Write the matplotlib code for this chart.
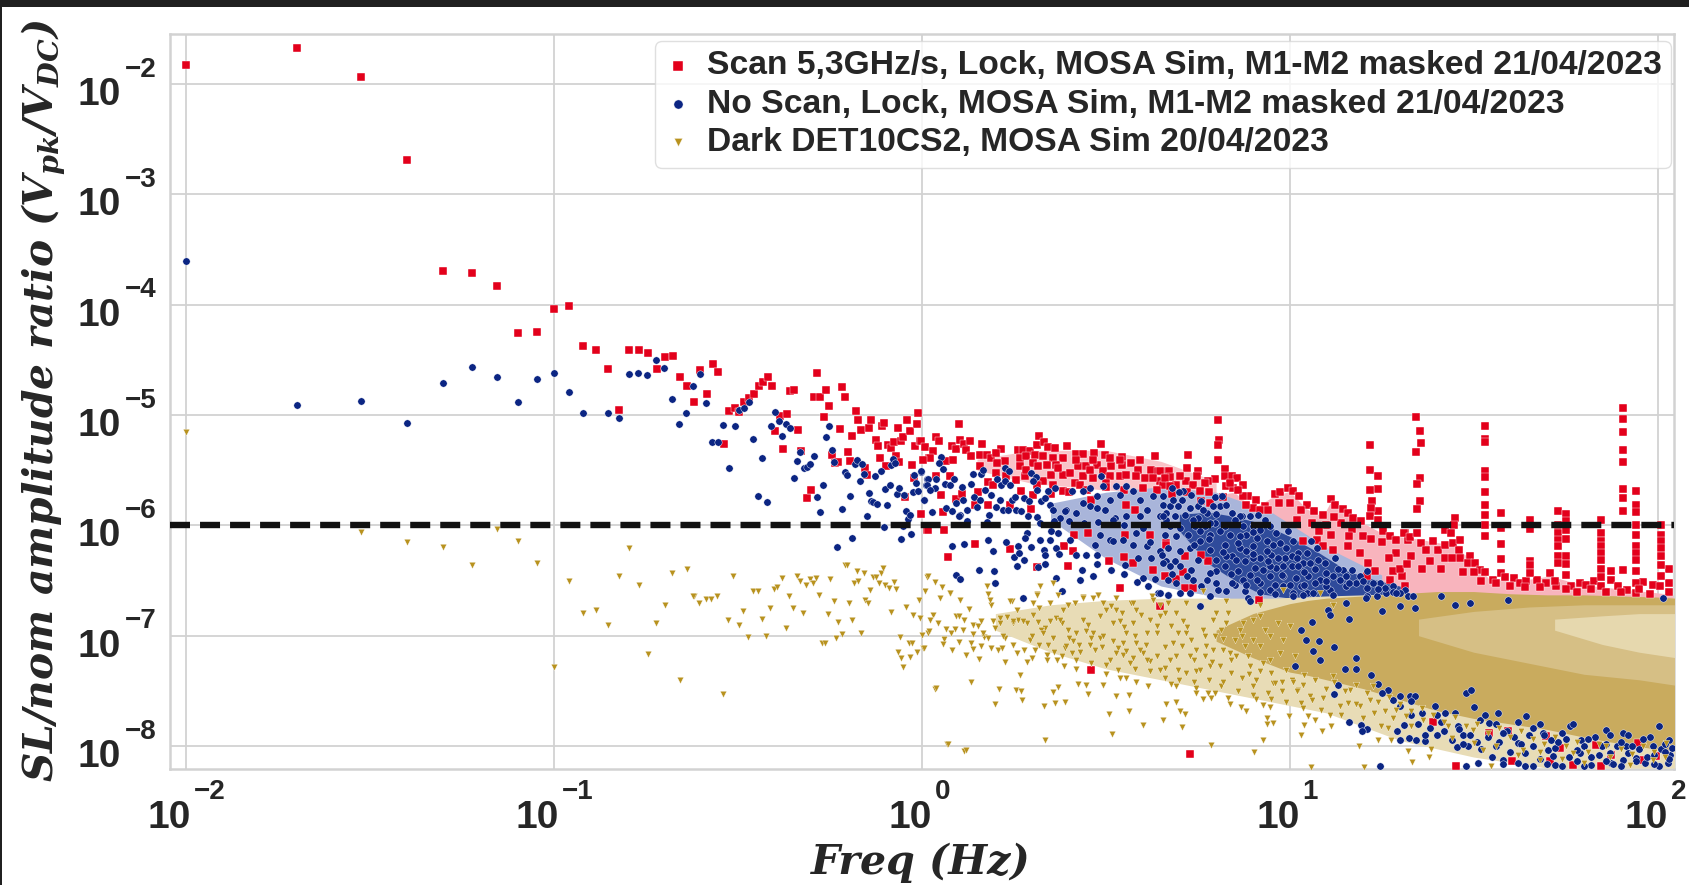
from matplotlib import pyplot as plt
from matplotlib.patches import Rectangle
from matplotlib.transforms import blended_transform_factory
import numpy as np

plt.rcParams['mathtext.fontset'] = 'custom'
plt.rcParams['mathtext.bfit'] = 'DejaVu Serif:italic:bold'

# first bins, one every 0.01 Hz
scan_low_f = [0.01, 0.02, 0.03, 0.04, 0.05, 0.06, 0.07, 0.08, 0.09, 0.10, 0.11, 0.12, 0.13,
              0.14, 0.15]
scan_low_v = [1.48e-2, 2.1e-2, 1.16e-2, 2.04e-3, 2.0e-4, 1.93e-4, 1.48e-4, 5.5e-5, 5.7e-5,
              9.1e-5, 9.8e-5, 4.2e-5, 3.9e-5, 2.6e-5, 1.1e-5]
nolock_low_f = [0.01, 0.02, 0.03, 0.04, 0.05, 0.06, 0.07, 0.08, 0.09, 0.10, 0.11, 0.12, 0.14,
                0.15]
nolock_low_v = [2.5e-4, 1.22e-5, 1.33e-5, 8.5e-6, 1.97e-5, 2.7e-5, 2.2e-5, 1.3e-5, 2.1e-5,
                2.4e-5, 1.6e-5, 1.05e-5, 1.05e-5, 9.4e-6]
dark_low_f = [0.01, 0.03, 0.04, 0.05, 0.06, 0.07, 0.08, 0.09, 0.10, 0.11, 0.12, 0.13, 0.14,
              0.15, 0.16, 0.17, 0.18, 0.19, 0.20, 0.21, 0.22, 0.23, 0.24]
dark_low_v = [7.0e-6, 8.7e-7, 7.1e-7, 6.3e-7, 4.4e-7, 9.3e-7, 7.2e-7, 4.6e-7, 5.2e-8, 3.1e-7,
              1.6e-7, 1.7e-7, 1.26e-7, 3.5e-7, 6.2e-7, 2.9e-7, 6.8e-8, 1.3e-7, 1.9e-7, 3.7e-7,
              4e-8, 4e-7, 2.3e-7]

# the rest as (log10 freq, log10 ratio)
scan_points = [
    (-0.795, -4.415), (-0.768, -4.415), (-0.744, -4.442), (-0.721, -4.587), (-0.699, -4.470),
    (-0.677, -4.461), (-0.658, -4.654), (-0.638, -4.735), (-0.619, -4.883), (-0.603, -4.590),
    (-0.584, -4.808), (-0.568, -4.536), (-0.553, -4.608), (-0.537, -5.264), (-0.524, -4.965),
    (-0.509, -4.938), (-0.496, -4.977), (-0.483, -4.886), (-0.469, -4.847), (-0.456, -4.808),
    (-0.443, -4.735), (-0.432, -4.702), (-0.419, -4.654), (-0.408, -4.741), (-0.398, -5.149),
    (-0.386, -5.013), (-0.378, -5.309), (-0.367, -4.992), (-0.359, -4.778), (-0.347, -4.775),
    (-0.337, -5.140), (-0.329, -5.324), (-0.311, -5.753), (-0.301, -5.681), (-0.292, -4.835),
    (-0.284, -4.615), (-0.276, -4.841), (-0.267, -5.016), (-0.259, -4.772), (-0.252, -4.917),
    (-0.244, -5.361), (-0.236, -5.436), (-0.227, -5.424), (-0.223, -5.128), (-0.216, -4.745),
    (-0.208, -4.841), (-0.201, -5.336), (-0.194, -5.421), (-0.189, -5.191), (-0.180, -4.968),
    (-0.174, -5.043), (-0.165, -5.140), (-0.154, -5.484), (-0.149, -5.541), (-0.143, -5.119),
    (-0.137, -5.049), (-0.125, -5.225), (-0.120, -5.282), (-0.113, -5.391), (-0.108, -5.104),
    (-0.102, -5.068), (-0.097, -5.460), (-0.092, -5.270), (-0.083, -5.300), (-0.075, -5.249),
    (-0.070, -5.369), (-0.065, -5.122), (-0.061, -5.430), (-0.056, -5.240), (-0.050, -5.200),
    (-0.046, -5.747), (-0.039, -5.049), (-0.031, -5.149), (-0.027, -5.451), (-0.022, -5.572),
    (-0.018, -5.285), (-0.013, -5.086), (-0.009, -4.983), (-0.005, -5.240), (-0.001, -5.898),
    (0.003, -5.406), (0.009, -5.291), (0.014, -6.040), (0.020, -5.391),
    (0.100, -5.082), (0.040, -5.200), (0.046, -5.239), (-0.001, -5.239), (0.008, -5.291),
    (0.031, -5.330), (0.022, -5.390), (0.004, -5.406), (0.067, -5.421), (0.085, -5.406),
    (0.081, -5.285), (0.092, -5.309), (0.103, -5.224), (0.114, -5.264), (0.130, -5.239),
    (0.121, -5.321), (0.135, -5.375), (0.164, -5.261), (0.158, -5.360), (0.176, -5.360),
    (0.189, -5.390), (0.214, -5.309), (0.203, -5.345), (0.158, -5.466), (0.226, -5.421),
    (0.205, -5.436), (0.076, -5.551), (0.038, -5.551), (0.053, -5.723), (0.058, -5.880),
    (-0.001, -5.898), (0.016, -6.040), (0.060, -6.040), (0.094, -5.759), (0.108, -5.714),
    (0.144, -5.813), (0.153, -5.699), (0.180, -5.813), (0.180, -5.611), (0.194, -5.632),
    (0.146, -6.170), (0.072, -6.285), (0.241, -6.215), (0.312, -6.381), (0.398, -6.366),
    (0.387, -6.191), (0.411, -6.230), (0.413, -6.091), (0.452, -6.073), (0.509, -6.327),
    (0.550, -6.288), (0.574, -6.342), (0.538, -6.569), (0.660, -6.463), (0.629, -6.403),
    (0.620, -6.085), (0.552, -6.085), (0.665, -6.161),
    (0.262, -5.315), (0.275, -5.315), (0.293, -5.330), (0.318, -5.194), (0.313, -5.269),
    (0.332, -5.248), (0.343, -5.291), (0.361, -5.300), (0.395, -5.285), (0.420, -5.351),
    (0.438, -5.351), (0.467, -5.345), (0.488, -5.264), (0.497, -5.366), (0.543, -5.381),
    (0.592, -5.406), (0.633, -5.375), (0.570, -5.436), (0.266, -5.390), (0.284, -5.375),
    (0.307, -5.360), (0.330, -5.375), (0.357, -5.390), (0.384, -5.390), (0.302, -5.436),
    (0.339, -5.451), (0.366, -5.451), (0.425, -5.466), (0.447, -5.466), (0.475, -5.451),
    (0.515, -5.466), (0.543, -5.451), (0.588, -5.496), (0.624, -5.496), (0.642, -5.511),
    (0.669, -5.511), (0.280, -5.556), (0.257, -5.587), (0.330, -5.602), (0.384, -5.541),
    (0.416, -5.617), (0.466, -5.572), (0.538, -5.556), (0.583, -5.556), (0.647, -5.602),
    (0.271, -5.693), (0.302, -5.723), (0.384, -5.693), (0.239, -5.813), (0.298, -5.853),
    (0.461, -5.768), (0.579, -5.859), (0.556, -5.813),
    (0.806, -5.049), (0.807, -5.224), (0.806, -5.269), (0.806, -5.406), (0.724, -5.366),
    (0.722, -5.481), (0.751, -5.511), (0.672, -5.511), (0.674, -5.563), (0.647, -5.511),
    (0.824, -5.490), (0.825, -5.557), (0.796, -5.581), (0.778, -5.596), (0.842, -5.557),
    (0.857, -5.572), (0.872, -5.638), (0.887, -5.738), (0.908, -5.768), (0.932, -5.823),
    (0.960, -5.714), (0.975, -5.702), (0.996, -5.662), (1.009, -5.693), (1.026, -5.738),
    (1.046, -5.813), (1.065, -5.874), (1.091, -5.904), (1.111, -5.762), (1.123, -5.813),
    (1.145, -5.853), (1.159, -5.889), (1.172, -5.934), (1.195, -5.964), (1.218, -5.269),
    (1.218, -5.496), (1.240, -5.557), (1.240, -5.668), (1.218, -5.680), (1.224, -5.777),
    (1.240, -5.874), (1.222, -5.844), (1.218, -5.919), (1.240, -5.949), (1.254, -6.055),
    (1.272, -6.100), (1.290, -6.131), (1.313, -6.070), (1.322, -6.131), (0.719, -5.602),
    (0.738, -5.632), (0.656, -5.632), (0.692, -5.632), (0.661, -6.463), (0.692, -6.487),
    (0.715, -6.569), (0.738, -6.569), (0.710, -6.427), (0.715, -6.282), (0.778, -6.327),
    (0.760, -6.267), (0.665, -6.176), (0.760, -5.783), (0.783, -5.798), (0.828, -5.647),
    (0.846, -5.662), (1.037, -6.146), (1.073, -6.131), (1.091, -6.191), (1.118, -6.221),
    (1.113, -6.085), (1.159, -6.191), (1.190, -6.252), (1.213, -6.342), (1.231, -6.418),
    (1.209, -6.463), (1.281, -6.418), (1.272, -6.493), (1.313, -6.553), (1.304, -6.463),
    (1.344, -5.022), (1.355, -5.143), (1.356, -5.255), (1.344, -5.336), (1.353, -5.572),
    (1.347, -5.626), (1.355, -5.783), (1.346, -5.850), (1.448, -5.934), (1.447, -5.995),
    (1.421, -6.040), (1.439, -6.070), (1.312, -6.070), (1.326, -6.107), (1.346, -6.070),
    (1.358, -6.161), (1.390, -6.146), (1.403, -6.221), (1.421, -6.176), (1.421, -6.297),
    (1.444, -6.161), (1.462, -6.137), (1.460, -6.221), (1.462, -6.297), (1.489, -6.282),
    (1.485, -6.342), (1.504, -6.342), (1.516, -6.403), (1.532, -6.424), (1.553, -6.493),
    (1.575, -6.433), (1.586, -6.469), (1.611, -6.478), (1.625, -6.523), (1.643, -6.508),
    (1.672, -6.493), (1.707, -6.433), (1.696, -6.523), (1.725, -6.554), (1.765, -6.554),
    (1.788, -6.523), (1.804, -6.539), (1.826, -6.508), (1.874, -6.418), (1.874, -6.493),
    (1.892, -6.554), (1.917, -6.584), (1.960, -6.518), (1.987, -6.539), (2.007, -6.554),
    (2.031, -6.397), (2.031, -6.523), (2.008, -6.463),
    (1.530, -5.104), (1.530, -5.215), (1.530, -5.249), (1.530, -5.511), (1.530, -5.563),
    (1.530, -5.699), (1.530, -5.814), (1.530, -5.904), (1.530, -5.995), (1.530, -6.095),
    (1.573, -5.889), (1.573, -6.025), (1.573, -6.167), (1.573, -6.303),
    (1.652, -5.956), (1.652, -6.034), (1.652, -6.321), (1.652, -6.363), (1.652, -6.433),
    (1.729, -5.868), (1.729, -5.995), (1.729, -6.070), (1.729, -6.131), (1.729, -6.191),
    (1.729, -6.282), (1.729, -6.342),
    (1.752, -5.895), (1.752, -5.965), (1.752, -6.046), (1.752, -6.122), (1.752, -6.282),
    (1.752, -6.348), (1.752, -6.448),
    (1.845, -5.950), (1.845, -6.070), (1.845, -6.146), (1.845, -6.191), (1.845, -6.252),
    (1.845, -6.312), (1.845, -6.397), (1.845, -6.469), (1.845, -6.554),
    (1.906, -4.938), (1.906, -5.037), (1.906, -5.158), (1.906, -5.315), (1.906, -5.427),
    (1.906, -5.672), (1.906, -5.753), (1.906, -5.868), (1.906, -6.403),
    (1.942, -5.693), (1.942, -5.820), (1.942, -5.880), (1.942, -5.995), (1.942, -6.086),
    (1.942, -6.185), (1.942, -6.252), (1.942, -6.318), (1.942, -6.418), (1.942, -6.523),
    (1.942, -6.614),
    (2.010, -5.995), (2.010, -6.086), (2.010, -6.146), (2.010, -6.206), (2.010, -6.282),
    (2.010, -6.357),
    (1.389, -7.782), (1.453, -8.184), (1.605, -8.133), (1.734, -8.018), (1.770, -8.169),
    (1.543, -7.882), (1.593, -7.867), (1.697, -7.912), (1.833, -7.988), (1.874, -8.079),
    (1.951, -8.124), (1.996, -8.094), (1.947, -7.973), (1.847, -8.184), (1.707, -8.139),
    (0.459, -7.308), (0.730, -8.069), (0.917, -6.674), (0.647, -6.734),
    (0.266, -5.466), (0.284, -5.496), (0.316, -5.466), (0.352, -5.541), (0.370, -5.481),
    (0.402, -5.526), (0.438, -5.556), (0.457, -5.496), (0.493, -5.511), (0.511, -5.556),
    (0.556, -5.541), (0.606, -5.572), (0.629, -5.572), (0.660, -5.572), (0.502, -5.617),
    (0.429, -5.632), (0.357, -5.632), (0.313, -5.632), (0.203, -5.526), (0.230, -5.557),
    (0.538, -5.406), (0.511, -5.390), (0.466, -5.406), (0.420, -5.406),
    (0.674, -5.647), (0.701, -5.557), (0.747, -5.557), (0.769, -5.617), (0.756, -5.693),
    (0.873, -5.738), (0.860, -5.677), (0.837, -5.617), (0.901, -5.844), (0.919, -5.859),
    (1.00, -5.80), (0.97, -5.80), (1.03, -5.86), (1.06, -5.98), (1.10, -6.00), (1.14, -5.98),
    (1.17, -6.03), (1.20, -6.10), (1.25, -6.15), (1.29, -6.25), (1.33, -6.28), (1.37, -6.22),
    (1.41, -6.40), (1.47, -6.42), (1.52, -6.50), (1.60, -6.55), (1.68, -6.56), (1.75, -6.58),
    (1.82, -6.58), (1.90, -6.60), (1.98, -6.62), (1.36, -6.40), (1.30, -6.40),
    (0.50, -5.65), (0.45, -5.68), (0.40, -5.70), (0.35, -5.72), (0.55, -5.68), (0.60, -5.66),
    (0.64, -5.68), (0.68, -5.72), (0.72, -5.70), (0.78, -5.70), (0.82, -5.74), (0.88, -5.82),
    (0.94, -5.86), (1.02, -5.95), (1.08, -6.05), (1.12, -5.92), (1.16, -6.10), (1.22, -6.12),
    (1.27, -6.30), (1.32, -6.35), (1.38, -6.32), (1.44, -6.30), (1.50, -6.42), (1.56, -6.52),
    (1.64, -6.56), (1.72, -6.50), (1.78, -6.60), (1.86, -6.60), (1.95, -6.58), (2.03, -6.60),
]

nolock_points = [
    (-0.796, -4.630), (-0.770, -4.618), (-0.746, -4.636), (-0.722, -4.503), (-0.700, -4.575),
    (-0.679, -4.856), (-0.659, -5.086), (-0.640, -4.986), (-0.621, -4.738), (-0.603, -4.627),
    (-0.586, -4.895), (-0.570, -5.246), (-0.553, -5.243), (-0.539, -5.089), (-0.525, -5.478),
    (-0.509, -5.101), (-0.496, -4.956), (-0.483, -4.935), (-0.470, -4.886), (-0.458, -5.213),
    (-0.445, -5.733), (-0.433, -5.388), (-0.421, -5.784), (-0.410, -5.098), (-0.400, -4.971),
    (-0.389, -5.052), (-0.379, -5.194), (-0.368, -5.077), (-0.358, -5.116), (-0.348, -5.572),
    (-0.338, -5.415), (-0.330, -5.336), (-0.321, -5.484), (-0.312, -5.469), (-0.303, -5.448),
    (-0.294, -5.367), (-0.285, -5.741), (-0.277, -5.877), (-0.269, -5.632), (-0.261, -5.203),
    (-0.253, -5.098), (-0.245, -5.318), (-0.238, -5.427), (-0.231, -6.200), (-0.216, -5.849),
    (-0.209, -5.512), (-0.202, -5.548), (-0.196, -5.738), (-0.189, -6.116), (-0.182, -5.445),
    (-0.175, -5.409), (-0.169, -5.602), (-0.162, -5.445), (-0.156, -5.533), (-0.150, -5.919),
    (-0.144, -5.705), (-0.138, -5.777), (-0.132, -5.789), (-0.126, -5.554), (-0.121, -5.807),
    (-0.112, -5.505), (-0.103, -6.016), (-0.099, -5.674), (-0.094, -5.813), (-0.087, -5.632),
    (-0.083, -5.451), (-0.077, -5.400), (-0.072, -5.436), (-0.067, -5.714), (-0.062, -5.666),
    (-0.057, -6.125), (-0.051, -6.004), (-0.048, -5.723), (-0.043, -5.874), (-0.038, -5.943),
    (-0.033, -5.907), (-0.028, -6.076), (-0.024, -5.695), (-0.020, -5.545), (-0.015, -5.617),
    (-0.010, -5.689), (-0.003, -5.512), (0.007, -5.771), (0.012, -5.632), (0.015, -5.584),
    (-0.001, -5.511), (0.052, -5.381), (0.047, -5.436), (0.058, -5.487),
    (0.017, -5.581), (0.040, -5.581), (0.013, -5.632), (0.035, -5.662), (0.022, -5.677),
    (0.062, -5.623), (0.078, -5.638), (0.088, -5.581), (0.006, -5.768), (0.028, -5.877),
    (0.067, -5.844), (0.081, -5.874), (0.092, -5.798), (0.103, -5.910), (0.112, -5.768),
    (0.110, -5.656), (0.124, -5.859), (0.135, -5.623), (0.140, -5.532), (0.141, -5.744),
    (0.162, -5.532), (0.167, -5.496), (0.159, -5.774), (0.171, -5.677), (0.189, -5.723),
    (0.149, -5.835), (0.182, -5.904), (0.176, -5.970), (0.124, -5.964), (0.101, -5.919),
    (0.203, -5.838), (0.212, -5.774), (0.205, -5.581), (0.216, -5.632), (0.226, -5.481),
    (0.237, -5.511), (0.226, -5.602), (0.239, -5.632), (0.221, -5.859), (0.235, -5.859),
    (0.244, -5.768), (0.253, -5.744), (0.257, -5.859), (0.271, -5.874), (0.277, -5.753),
    (0.291, -5.783), (0.289, -5.913), (0.298, -5.526), (0.310, -5.563), (0.302, -5.602),
    (0.313, -5.677), (0.312, -5.925), (0.325, -5.783), (0.334, -5.753), (0.343, -5.693),
    (0.348, -5.813), (0.361, -5.662), (0.357, -5.865), (0.375, -5.934), (0.393, -5.859),
    (0.407, -5.693), (0.420, -5.889), (0.438, -5.693), (0.457, -5.662), (0.438, -5.798),
    (0.457, -5.828), (0.475, -5.738), (0.493, -5.647), (0.488, -5.556), (0.511, -5.768),
    (0.529, -5.647), (0.538, -5.723), (0.556, -5.647), (0.574, -5.693), (0.525, -5.934),
    (0.556, -5.919), (0.592, -5.768), (0.611, -5.859), (0.629, -5.738), (0.656, -5.813),
    (0.592, -5.919), (0.647, -5.919), (0.665, -5.949), (0.475, -5.844), (0.497, -5.859),
    (0.388, -5.874),
    (0.081, -6.191), (0.115, -6.170), (0.180, -6.131), (0.194, -6.230), (0.230, -6.155),
    (0.262, -6.185), (0.250, -6.288), (0.264, -6.252), (0.277, -6.312), (0.258, -6.366),
    (0.156, -6.406), (0.197, -6.415), (0.094, -6.451), (0.105, -6.490), (0.199, -6.520),
    (0.286, -6.070), (0.280, -6.115), (0.296, -6.197), (0.322, -6.131), (0.332, -6.221),
    (0.334, -6.267), (0.334, -6.354), (0.316, -6.378), (0.352, -6.055), (0.370, -6.070),
    (0.348, -6.131), (0.364, -6.206), (0.372, -6.261), (0.366, -6.478), (0.380, -6.599),
    (0.275, -6.656), (0.402, -6.131), (0.420, -6.267), (0.436, -6.409), (0.447, -6.267),
    (0.429, -6.499), (0.475, -6.267), (0.470, -6.176), (0.475, -6.351), (0.466, -6.457),
    (0.484, -6.085), (0.511, -6.131), (0.515, -6.403), (0.520, -6.146), (0.547, -6.131),
    (0.552, -6.363), (0.550, -6.439), (0.583, -6.070), (0.574, -6.176), (0.588, -6.297),
    (0.611, -6.191), (0.624, -6.297), (0.647, -6.236), (0.665, -6.327), (0.601, -6.478),
    (0.585, -6.514), (0.615, -6.553), (0.635, -6.484), (0.643, -6.611), (0.669, -6.629),
    (0.679, -5.662), (0.656, -5.738), (0.710, -5.693), (0.733, -5.723), (0.706, -5.768),
    (0.674, -5.828), (0.751, -5.823), (0.796, -5.744), (0.815, -5.732), (0.774, -5.889),
    (0.810, -5.828), (0.842, -5.889), (0.869, -5.913), (0.892, -5.919), (0.914, -5.904),
    (0.932, -5.949), (0.715, -5.904), (0.688, -5.919), (0.665, -5.889), (0.855, -5.979),
    (0.810, -6.055), (0.783, -6.085), (0.751, -5.934), (0.724, -6.085), (0.692, -6.100),
    (0.661, -6.085), (0.837, -6.085), (0.882, -6.085), (0.919, -6.040), (0.964, -6.070),
    (0.996, -6.055), (1.009, -6.146), (0.973, -6.161), (0.937, -6.146), (0.901, -6.191),
    (0.864, -6.206), (0.824, -6.176), (0.783, -6.221), (0.756, -6.146), (0.728, -6.206),
    (0.701, -6.236), (0.670, -6.206), (0.652, -6.267), (0.688, -6.327), (0.801, -6.312),
    (0.842, -6.282), (0.878, -6.327), (0.919, -6.297), (0.950, -6.267), (0.987, -6.297),
    (1.023, -6.252), (1.046, -6.252), (1.059, -6.146), (1.073, -6.206), (1.077, -6.312),
    (1.037, -6.342), (1.005, -6.372), (0.964, -6.387), (0.928, -6.403), (0.892, -6.448),
    (0.860, -6.418), (0.801, -6.418), (0.774, -6.493), (0.738, -6.493), (0.692, -6.523),
    (0.670, -6.493), (0.670, -6.629), (0.647, -6.614), (0.701, -6.614), (0.728, -6.614),
    (0.783, -6.644), (0.806, -6.584), (0.851, -6.539), (0.878, -6.599), (0.919, -6.523),
    (0.960, -6.539), (0.982, -6.463), (1.018, -6.478), (1.050, -6.463), (1.095, -6.342),
    (1.123, -6.297), (1.145, -6.403), (1.118, -6.463), (1.082, -6.493), (1.168, -6.403),
    (1.209, -6.418), (1.181, -6.523), (1.154, -6.553), (1.109, -6.584), (1.046, -6.614),
    (1.009, -6.614), (1.245, -6.523), (1.209, -6.569), (1.281, -6.553), (1.263, -6.614),
    (1.313, -6.584), (1.322, -6.644), (1.299, -6.614), (1.236, -6.644), (0.887, -6.659),
    (0.892, -6.689), (0.756, -6.735),
    (0.683, -5.768), (0.728, -5.844), (0.697, -5.828), (0.765, -5.859), (0.792, -5.828),
    (0.828, -5.813), (0.864, -5.919), (0.742, -6.010), (0.769, -6.010), (0.796, -5.979),
    (0.824, -6.010), (0.873, -6.010), (0.901, -6.010), (0.946, -6.010), (0.674, -6.010),
    (0.701, -6.025), (0.756, -6.055), (0.864, -6.100), (0.910, -6.115), (0.955, -6.176),
    (0.991, -6.206), (0.882, -6.236), (0.937, -6.236), (0.828, -6.282), (0.855, -6.312),
    (0.901, -6.297), (0.969, -6.297), (1.005, -6.282), (0.905, -6.387), (0.946, -6.372),
    (0.982, -6.372), (1.023, -6.372), (1.055, -6.342), (1.100, -6.433), (0.946, -6.463),
    (0.910, -6.493), (0.873, -6.493), (1.032, -6.553), (1.068, -6.523), (1.136, -6.493),
    (1.190, -6.463), (1.227, -6.523), (1.154, -6.463), (0.946, -6.584), (0.982, -6.553),
    (1.100, -6.553), (1.209, -6.644), (1.258, -6.569), (0.656, -5.919), (0.738, -5.949),
    (0.783, -5.979), (0.751, -6.312), (0.733, -6.403), (0.656, -6.342), (0.783, -6.433),
    (0.824, -6.372), (0.674, -6.372), (0.701, -6.372), (0.842, -6.523), (0.828, -6.599),
    (0.70, -5.70), (0.76, -5.78), (0.80, -5.90), (0.85, -5.95), (0.90, -6.06), (0.74, -6.18),
    (0.78, -6.12), (0.82, -6.24), (0.86, -6.16), (0.90, -6.26), (0.94, -6.32), (0.98, -6.45),
    (1.02, -6.30), (1.04, -6.42), (1.07, -6.40), (1.10, -6.50), (1.13, -6.40), (1.16, -6.52),
    (1.20, -6.50), (1.24, -6.58), (1.28, -6.60), (0.72, -6.46), (0.76, -6.55), (0.80, -6.52),
    (0.84, -6.44), (0.88, -6.54), (0.92, -6.60), (0.96, -6.62), (1.0, -6.54), (1.04, -6.54),
    (0.68, -6.44), (0.62, -6.15), (0.60, -6.02), (0.55, -6.0), (0.52, -5.95), (0.48, -5.97),
    (0.44, -5.98), (0.40, -5.96), (0.36, -5.96), (0.32, -5.98),
    (1.131, -7.450), (1.120, -7.525), (1.161, -7.782), (1.193, -7.813), (1.210, -7.846),
    (1.197, -7.867), (1.181, -7.302), (1.267, -7.489), (1.299, -7.550), (1.326, -7.550),
    (1.340, -7.550), (1.331, -7.589), (1.312, -7.806), (1.292, -7.861), (1.301, -7.943),
    (1.323, -7.927), (1.342, -7.943), (1.369, -7.958), (1.367, -7.897), (1.400, -7.903),
    (1.471, -7.903), (1.455, -8.009), (1.485, -7.997), (1.480, -8.184), (1.512, -8.154),
    (1.245, -8.184), (1.580, -8.124), (1.639, -8.184), (1.562, -8.003), (1.580, -7.882),
    (1.543, -7.791), (1.566, -7.701), (1.457, -7.822), (1.516, -7.761), (1.394, -7.640),
    (1.421, -7.701), (1.480, -7.520), (1.494, -7.489), (1.620, -7.973), (1.661, -8.003),
    (1.643, -7.731), (1.688, -7.882), (1.702, -8.033), (1.716, -8.094), (1.720, -8.169),
    (1.793, -7.943), (1.788, -8.063), (1.820, -8.169), (1.870, -8.063), (1.874, -8.154),
    (1.906, -8.124), (1.915, -8.003), (1.942, -8.109), (1.965, -8.154), (1.987, -8.003),
    (2.033, -8.079), (2.028, -8.154), (2.005, -7.822), (1.906, -7.882), (1.860, -7.852),
    (1.761, -7.822), (2.005, -8.184),
    (1.009, -6.643), (1.036, -6.628), (1.063, -6.613), (1.104, -6.764), (1.109, -6.810),
    (1.045, -7.036), (1.063, -7.142), (1.082, -7.217), (1.014, -7.272), (1.118, -6.628),
    (1.154, -6.704), (1.208, -6.659), (1.299, -6.734), (1.290, -6.613), (1.335, -6.643),
    (1.412, -6.643), (1.489, -6.704), (1.593, -6.674), (2.014, -6.659),
    (1.50, -7.65), (1.53, -7.72), (1.56, -7.80), (1.59, -7.86), (1.62, -7.78), (1.65, -7.90),
    (1.68, -7.80), (1.71, -7.95), (1.74, -7.88), (1.77, -7.80), (1.80, -8.0), (1.83, -7.92),
    (1.86, -7.98), (1.89, -8.0), (1.92, -7.90), (1.95, -8.03), (1.98, -7.92), (2.01, -8.03),
    (2.03, -7.95), (1.47, -7.98), (1.52, -8.03), (1.57, -7.96), (1.60, -8.05), (1.64, -8.06),
    (1.68, -8.12), (1.72, -8.02), (1.76, -8.1), (1.80, -8.18), (1.84, -8.08), (1.88, -8.16),
    (1.92, -8.06), (1.97, -8.1), (2.02, -8.05), (1.42, -7.86), (1.36, -7.70), (1.30, -7.64),
    (1.25, -7.52), (1.22, -7.36), (1.15, -7.30), (1.08, -7.05), (1.03, -6.95),
    (1.35, -7.80), (1.38, -7.84), (1.41, -7.78), (1.44, -7.95), (1.46, -7.85), (1.49, -7.90),
    (1.51, -7.96), (1.54, -7.92), (1.58, -7.88), (1.61, -7.92), (1.63, -7.98), (1.66, -7.84),
    (1.69, -7.90), (1.73, -7.96), (1.75, -7.94), (1.78, -8.04), (1.81, -7.94), (1.85, -8.00),
    (1.87, -7.90), (1.90, -7.96), (1.93, -8.00), (1.96, -7.94), (1.99, -8.08), (2.02, -7.98),
    (2.04, -8.02), (1.55, -8.10), (1.58, -8.16), (1.62, -8.15), (1.66, -8.18), (1.70, -8.16),
    (1.74, -8.18), (1.78, -8.14), (1.82, -8.10), (1.86, -8.14), (1.90, -8.18), (1.94, -8.14),
    (1.99, -8.16), (2.03, -8.12), (1.40, -7.72), (1.45, -7.70), (1.33, -7.72), (1.28, -7.58),
    (1.24, -7.44), (1.18, -7.20), (1.12, -7.10), (1.06, -6.88), (1.16, -6.85), (1.25, -6.78),
    (1.34, -6.75), (1.45, -6.72),
]

dark_points = [
    (-0.623, -6.640), (-0.606, -6.701), (-0.587, -6.668), (-0.572, -6.665), (-0.556, -6.637),
    (-0.541, -7.532), (-0.526, -6.858), (-0.512, -6.462), (-0.498, -6.906), (-0.485, -6.773),
    (-0.472, -7.009), (-0.459, -6.598), (-0.446, -6.598), (-0.434, -6.846), (-0.423, -7.003),
    (-0.413, -6.746), (-0.402, -6.580), (-0.394, -6.562), (-0.380, -6.480), (-0.370, -6.927),
    (-0.360, -6.640), (-0.350, -6.746), (-0.340, -6.456), (-0.331, -6.508), (-0.322, -6.798),
    (-0.314, -6.541), (-0.305, -6.483), (-0.297, -6.526), (-0.287, -6.480), (-0.280, -6.631),
    (-0.270, -7.063), (-0.263, -7.069), (-0.256, -6.804), (-0.249, -6.489), (-0.239, -6.689),
    (-0.233, -7.018), (-0.227, -6.873), (-0.218, -6.985), (-0.210, -6.356), (-0.203, -6.360),
    (-0.197, -6.704), (-0.191, -6.855), (-0.184, -6.520), (-0.177, -6.414), (-0.172, -6.502),
    (-0.165, -6.976), (-0.158, -6.429), (-0.153, -6.677), (-0.147, -6.707), (-0.140, -6.586),
    (-0.132, -6.465), (-0.125, -6.465), (-0.117, -6.526), (-0.110, -6.435), (-0.106, -6.390),
    (-0.099, -6.541), (-0.090, -6.571), (-0.085, -6.789), (-0.075, -6.511), (-0.070, -6.580),
    (-0.059, -7.009), (-0.065, -7.145), (-0.057, -7.205), (-0.050, -7.287), (-0.031, -7.190),
    (-0.034, -7.069), (-0.026, -7.069), (-0.012, -7.145), (0.003, -7.115), (0.001, -6.994),
    (-0.007, -6.677), (0.014, -6.465), (0.018, -6.973), (-0.043, -6.737), (-0.024, -6.813),
    (-0.005, -6.843), (0.037, -7.483), (0.068, -7.985), (0.116, -8.042),
    (0.031, -6.810), (0.022, -6.861), (0.045, -6.885), (0.065, -6.936), (0.060, -7.030),
    (0.058, -7.072), (0.006, -7.112), (0.019, -6.961), (0.081, -7.133), (0.093, -6.819),
    (0.102, -6.819), (0.115, -6.861), (0.090, -6.940), (0.111, -6.952), (0.121, -7.172),
    (0.140, -6.900), (0.153, -6.909), (0.162, -6.870), (0.140, -6.985), (0.135, -7.066),
    (0.162, -7.097), (0.156, -7.208), (0.169, -7.015), (0.189, -7.112), (0.207, -7.127),
    (0.217, -7.112), (0.194, -6.870), (0.212, -6.840), (0.232, -6.831), (0.198, -6.930),
    (0.248, -6.885), (0.262, -6.855), (0.226, -7.021), (0.248, -7.081), (0.226, -7.242),
    (0.266, -7.353), (0.277, -7.127), (0.293, -7.036), (0.286, -6.885), (0.303, -6.810),
    (0.316, -6.879), (0.334, -6.930), (0.307, -7.127), (0.319, -7.081), (0.286, -7.242),
    (0.339, -7.178), (0.343, -7.081), (0.357, -7.021), (0.366, -6.840), (0.380, -6.885),
    (0.368, -7.223), (0.386, -7.278), (0.389, -7.112), (0.407, -7.157), (0.420, -7.223),
    (0.411, -7.051), (0.398, -6.945), (0.428, -7.081), (0.438, -6.855), (0.452, -6.900),
    (0.457, -7.081), (0.470, -7.127), (0.484, -7.021), (0.502, -7.263), (0.511, -7.223),
    (0.534, -7.308), (0.534, -7.112), (0.547, -7.172), (0.565, -7.247), (0.583, -7.066),
    (0.601, -7.157), (0.620, -7.232), (0.647, -7.308), (0.674, -7.217), (0.697, -7.308),
    (0.719, -7.338), (0.746, -7.323), (0.769, -7.187), (0.792, -7.127), (0.810, -7.278),
    (0.837, -7.157), (0.869, -7.384), (0.887, -7.187), (0.900, -7.459), (0.928, -7.248),
    (0.955, -7.429),
    (0.040, -7.477), (0.135, -7.420), (0.210, -7.480), (0.257, -7.489), (0.271, -7.504),
    (0.273, -7.580), (0.200, -7.622), (0.070, -7.982), (0.119, -8.039), (0.334, -7.943),
    (0.332, -7.634), (0.363, -7.610), (0.390, -7.604), (0.357, -7.510), (0.369, -7.465),
    (0.425, -7.435), (0.447, -7.444), (0.452, -7.526), (0.493, -7.444), (0.529, -7.550),
    (0.563, -7.535), (0.554, -7.384), (0.583, -7.423), (0.615, -7.459), (0.509, -7.707),
    (0.562, -7.686), (0.518, -7.891), (0.600, -7.807), (0.656, -7.767), (0.665, -7.619),
    (0.692, -7.604), (0.701, -7.686), (0.715, -7.710), (0.707, -7.825), (0.678, -7.438),
    (0.692, -7.459), (0.745, -7.474), (0.746, -7.520), (0.764, -7.571), (0.785, -7.565),
    (0.778, -7.520), (0.796, -7.520), (0.814, -7.459), (0.832, -7.565), (0.837, -7.616),
    (0.867, -7.646), (0.880, -7.686), (0.787, -7.988), (0.903, -8.051), (0.928, -7.943),
    (0.937, -7.746), (0.937, -7.801), (0.955, -7.792), (0.909, -7.574), (0.928, -7.625),
    (0.946, -7.646), (0.950, -7.574), (0.991, -7.604), (0.997, -7.731),
    (0.049, -6.659), (0.076, -6.613), (0.103, -6.674), (0.129, -6.758), (0.180, -6.619),
    (0.187, -6.719), (0.244, -6.689), (0.259, -6.770), (0.303, -6.704), (0.348, -6.704),
    (0.313, -6.619), (0.319, -6.749), (0.416, -6.704), (0.438, -6.649), (0.466, -6.659),
    (0.479, -6.628), (0.493, -6.704), (0.515, -6.734), (0.529, -6.764), (0.543, -6.794),
    (0.570, -6.704), (0.583, -6.764), (0.597, -6.810), (0.620, -6.855), (0.638, -6.915),
    (0.660, -6.794), (0.678, -6.915), (0.697, -6.976), (0.710, -6.870), (0.733, -7.036),
    (0.764, -6.945), (0.792, -6.855), (0.814, -6.945), (0.832, -6.794), (0.851, -7.036),
    (0.873, -6.885), (0.900, -7.036), (0.918, -6.825), (0.946, -7.006), (0.973, -7.157),
    (1.000, -6.915),
    (0.016, -6.463), (0.010, -6.599), (0.035, -6.517), (0.055, -6.563), (0.076, -6.614),
    (0.176, -6.554), (0.185, -6.674), (0.241, -6.689),
    (0.321, -6.548), (0.312, -6.630), (0.357, -6.523), (0.370, -6.630), (0.398, -6.720),
    (0.438, -6.659), (0.479, -6.630), (0.529, -6.659), (0.574, -6.704), (0.627, -6.644),
    (0.647, -6.720), (0.719, -6.705), (0.765, -6.599), (0.828, -6.689), (0.919, -6.719),
    (0.982, -6.584), (1.082, -6.614), (1.118, -6.720),
    (0.629, -6.674), (0.647, -6.825), (0.669, -6.704), (0.692, -6.794), (0.683, -7.066),
    (0.706, -7.097), (0.719, -6.976), (0.728, -7.187), (0.746, -7.127), (0.755, -7.308),
    (0.773, -7.097), (0.783, -7.278), (0.796, -7.006), (0.801, -6.794), (0.819, -7.127),
    (0.828, -6.885), (0.841, -7.338), (0.855, -7.187), (0.864, -6.945), (0.878, -7.097),
    (0.891, -7.278), (0.900, -6.855), (0.909, -7.399), (0.918, -7.097), (0.932, -6.945),
    (0.946, -7.217), (0.959, -7.429), (0.968, -6.885), (0.982, -7.036), (0.991, -7.308),
    (1.005, -7.399), (1.014, -7.187), (1.023, -7.489),
    (0.502, -6.764), (0.556, -6.976), (0.538, -6.870), (0.574, -6.885), (0.611, -6.976),
    (0.484, -6.825), (0.447, -6.961), (0.420, -6.976), (0.384, -6.764), (0.348, -6.870),
    (0.393, -7.097), (0.466, -6.976), (0.493, -7.006), (0.520, -6.885), (0.547, -7.066),
    (0.592, -7.127), (0.611, -7.217), (0.638, -7.187), (0.660, -7.293), (0.574, -7.202),
    (0.556, -7.142), (0.529, -7.157), (0.248, -6.870), (0.275, -6.870), (0.212, -6.885),
    (0.167, -6.976), (0.325, -6.945), (0.375, -6.855),
    (0.30, -7.00), (0.33, -6.98), (0.36, -7.15), (0.40, -7.02), (0.43, -7.15), (0.46, -7.02),
    (0.49, -7.10), (0.52, -7.05), (0.55, -6.92), (0.58, -7.00), (0.61, -7.08), (0.64, -6.98),
    (0.66, -7.10), (0.69, -7.18), (0.72, -6.92), (0.74, -7.22), (0.77, -7.00), (0.79, -7.24),
    (0.82, -7.03), (0.84, -7.22), (0.87, -7.00), (0.89, -7.35), (0.92, -7.32), (0.95, -7.34),
    (0.98, -7.42), (0.58, -7.30), (0.62, -7.32), (0.66, -7.38), (0.70, -7.40), (0.74, -7.42),
    (0.78, -7.40), (0.82, -7.42), (0.86, -7.50), (0.90, -7.54), (0.94, -7.52), (0.98, -7.50),
    (1.01, -7.42), (0.54, -7.38), (0.50, -7.35), (0.46, -7.25), (0.42, -7.30), (0.38, -7.18),
    (0.34, -7.22), (0.30, -7.20), (0.26, -7.16), (0.22, -7.00), (0.18, -7.02), (0.14, -7.12),
    (0.10, -7.06), (0.08, -6.98),
    (1.032, -7.610), (1.036, -7.655), (1.050, -7.731), (1.038, -7.806), (1.032, -7.897),
    (1.068, -7.767), (1.089, -7.867), (1.086, -7.671), (1.054, -7.544), (1.113, -7.822),
    (1.109, -7.716), (1.136, -7.640), (1.159, -7.610), (1.190, -7.640), (1.217, -7.580),
    (1.249, -7.822), (1.267, -7.837), (1.240, -7.943), (1.276, -7.943), (1.188, -8.003),
    (1.322, -8.042), (1.385, -8.027), (1.379, -8.103), (1.333, -8.145), (1.059, -8.193),
    (1.201, -8.193), (1.548, -8.184), (1.317, -7.731), (1.430, -7.822), (1.118, -7.368),
    (1.036, -7.444), (1.091, -7.565), (1.163, -7.489), (1.226, -7.459), (1.290, -7.671),
    (1.362, -7.761), (1.498, -7.852), (1.525, -8.033), (1.634, -8.033), (1.679, -8.124),
    (1.770, -8.063), (1.860, -8.003), (1.924, -8.169), (1.987, -8.124), (2.024, -7.973),
    (1.12, -7.42), (1.15, -7.50), (1.18, -7.45), (1.21, -7.52), (1.24, -7.60), (1.27, -7.56),
    (1.30, -7.62), (1.33, -7.68), (1.36, -7.66), (1.39, -7.72), (1.42, -7.78), (1.45, -7.74),
    (1.48, -7.82), (1.51, -7.80), (1.54, -7.88), (1.57, -7.84), (1.60, -7.92), (1.63, -7.86),
    (1.66, -7.94), (1.69, -7.98), (1.72, -7.92), (1.75, -8.0), (1.78, -7.96), (1.81, -8.05),
    (1.84, -7.98), (1.87, -8.1), (1.90, -8.03), (1.93, -8.07), (1.96, -8.0), (1.99, -8.05),
    (2.02, -8.1), (1.18, -7.62), (1.23, -7.70), (1.28, -7.75), (1.33, -7.82), (1.44, -7.93),
    (1.50, -7.97), (1.56, -8.0), (1.62, -8.08), (1.68, -8.05), (1.74, -8.12), (1.80, -8.15),
    (1.10, -7.48), (1.07, -7.40), (1.04, -7.36), (1.02, -7.50), (1.06, -7.58), (1.14, -7.72),
    (1.20, -7.75), (1.26, -7.68),
]

# the clouds are too dense to pick points from, so their outlines are read instead
red_haze_logf = [0.15, 0.3, 0.5, 0.65, 0.8]
red_haze_top = [-5.40, -5.32, -5.32, -5.42, -5.60]
red_haze_low = [-5.50, -5.62, -5.68, -5.70, -5.75]

pink_logf = [0.75, 0.85, 0.90, 0.955, 1.0, 1.045, 1.09, 1.109, 1.154, 1.2, 1.245, 1.326, 1.344,
             1.39, 1.444, 1.5, 1.54, 1.607, 1.707, 1.797, 2.05]
pink_top = [-5.75, -5.70, -5.85, -5.74, -5.69, -5.85, -5.92, -5.80, -5.88, -5.98, -6.06, -6.12,
            -6.12, -6.15, -6.18, -6.33, -6.48, -6.51, -6.46, -6.54, -6.63]
pink_low = [-5.90, -6.10, -6.5, -6.8, -6.8, -6.8, -6.8, -6.8, -6.8, -6.8, -6.8, -6.8, -6.8,
            -6.8, -6.8, -6.8, -6.8, -6.8, -6.8, -6.8, -6.8]

blue_haze_logf = [0.35, 0.5, 0.65, 0.8, 0.95, 1.1, 1.25]
blue_haze_top = [-5.80, -5.70, -5.65, -5.70, -5.88, -6.20, -6.45]
blue_haze_low = [-5.95, -6.30, -6.55, -6.65, -6.70, -6.75, -6.75]

blue_logf = [0.70, 0.78, 0.85, 0.92, 1.0, 1.08, 1.16, 1.24, 1.31]
blue_top = [-5.90, -5.88, -5.92, -5.98, -6.1, -6.25, -6.42, -6.5, -6.56]
blue_low = [-6.05, -6.35, -6.5, -6.62, -6.66, -6.72, -6.76, -6.78, -6.76]

dark_haze_logf = [0.2, 0.35, 0.5, 0.65, 0.8, 0.95, 1.1, 1.3, 1.5, 1.7, 2.05]
dark_haze_top = [-6.80, -6.72, -6.68, -6.66, -6.66, -6.66, -6.64, -6.62, -6.62, -6.64, -6.66]
dark_haze_low = [-6.95, -7.15, -7.30, -7.40, -7.50, -7.60, -7.70, -7.95, -8.10, -8.20, -8.20]

dark_logf = [0.80, 0.90, 1.0, 1.05, 1.1, 1.2, 1.3, 1.4, 1.5, 1.6, 1.7, 1.8, 1.9, 2.0, 2.05]
dark_top = [-6.95, -6.80, -6.71, -6.68, -6.66, -6.64, -6.62, -6.60, -6.60, -6.62, -6.63, -6.63,
            -6.64, -6.65, -6.66]
dark_low = [-7.05, -7.20, -7.33, -7.36, -7.40, -7.48, -7.58, -7.68, -7.75, -7.80, -7.85, -7.92,
            -7.98, -8.03, -8.05]
dark_mid_logf = [1.35, 1.5, 1.65, 1.8, 1.95, 2.05]
dark_mid_top = [-6.85, -6.78, -6.74, -6.72, -6.72, -6.72]
dark_mid_low = [-7.0, -7.15, -7.25, -7.35, -7.40, -7.45]
dark_core_logf = [1.72, 1.85, 1.95, 2.05]
dark_core_top = [-6.85, -6.82, -6.80, -6.80]
dark_core_low = [-6.95, -7.08, -7.15, -7.20]

xtick_exps = ["\u22122", "\u22121", "0", "1", "2"]
xtick_vals = [1e-2, 1e-1, 1e0, 1e1, 1e2]
ytick_exps = ["\u22128", "\u22127", "\u22126", "\u22125", "\u22124", "\u22123", "\u22122"]
ytick_vals = [1e-8, 1e-7, 1e-6, 1e-5, 1e-4, 1e-3, 1e-2]

legend_labels = ["Scan 5,3GHz/s, Lock, MOSA Sim, M1-M2 masked 21/04/2023",
                 "No Scan, Lock, MOSA Sim, M1-M2 masked 21/04/2023",
                 "Dark DET10CS2, MOSA Sim 20/04/2023"]
threshold = 1e-6

RED = "#e3001b"
BLUE = "#0b2583"
GOLD = "#b8921e"
INK = "#262626"
TICK_FONT = {"family": "Liberation Sans", "weight": "bold", "color": INK}


def series(low_f, low_v, points):
    pts = np.array(points)
    f = np.concatenate([low_f, 10 ** pts[:, 0]])
    v = np.concatenate([low_v, 10 ** pts[:, 1]])
    return f, v


def band(ax, logf, top, low, color, z):
    ax.fill_between(10 ** np.array(logf), 10 ** np.array(low), 10 ** np.array(top),
                    color=color, lw=0, zorder=z)


def px(n):
    # offsets below are measured in pixels of the 100 dpi picture
    return n * 0.72


fig = plt.figure(figsize=(16.9, 8.85), dpi=100)
ax = fig.add_axes([170 / 1690, 1 - 769.3 / 885, (1674 - 170) / 1690, (769.3 - 34) / 885])
ax.set_xscale("log")
ax.set_yscale("log")
ax.set_xlim(9.05e-3, 110.8)
ax.set_ylim(6.15e-9, 2.84e-2)

band(ax, red_haze_logf, red_haze_top, red_haze_low, "#f9c3c8", 1.5)
band(ax, pink_logf, pink_top, pink_low, "#f8b4bd", 2)
band(ax, blue_haze_logf, blue_haze_top, blue_haze_low, "#a9b5da", 3)
band(ax, blue_logf, blue_top, blue_low, "#2f4b9b", 4)
band(ax, dark_haze_logf, dark_haze_top, dark_haze_low, "#e8dcb6", 4.5)
band(ax, dark_logf, dark_top, dark_low, "#c9ab5e", 5)
band(ax, dark_mid_logf, dark_mid_top, dark_mid_low, "#d6bf85", 5.1)
band(ax, dark_core_logf, dark_core_top, dark_core_low, "#e6d8ae", 5.2)

f, v = series(scan_low_f, scan_low_v, scan_points)
ax.scatter(f, v, s=38, marker="s", color=RED, edgecolors="white", linewidths=0.3, zorder=5.5,
           label=legend_labels[0])
f, v = series(nolock_low_f, nolock_low_v, nolock_points)
ax.scatter(f, v, s=28, marker="o", color=BLUE, edgecolors="white", linewidths=0.3, zorder=6,
           label=legend_labels[1])
f, v = series(dark_low_f, dark_low_v, dark_points)
ax.scatter(f, v, s=22, marker="v", color=GOLD, edgecolors="white", linewidths=0.25, zorder=7,
           label=legend_labels[2])

ax.axhline(threshold, color="#111111", lw=4.6, linestyle=(0, (3.13, 1.57)), zorder=8)

ax.grid(True, which="major", color="#d2d2d2", lw=1.3, zorder=0)
ax.set_axisbelow(True)
ax.minorticks_off()
for s in ax.spines.values():
    s.set_color("#d2d2d2")
    s.set_linewidth(1.8)

ax.set_xticks(xtick_vals)
ax.set_yticks(ytick_vals)
ax.set_xticklabels([])
ax.set_yticklabels([])
ax.tick_params(axis="both", length=0)

# base and exponent are separate texts, the exponent sits well above the base
xtrans = blended_transform_factory(ax.transData, ax.transAxes)
for val, exp in zip(xtick_vals, xtick_exps):
    split = 5 if len(exp) > 1 else 10
    ax.annotate("10", (val, 0), xycoords=xtrans, xytext=(px(split), px(-58.7)),
                textcoords="offset points", ha="right", va="baseline", fontsize=28,
                annotation_clip=False, **TICK_FONT)
    ax.annotate(exp, (val, 0), xycoords=xtrans, xytext=(px(split + 3), px(-29.7)),
                textcoords="offset points", ha="left", va="baseline", fontsize=20,
                annotation_clip=False, **TICK_FONT)
ytrans = blended_transform_factory(ax.transAxes, ax.transData)
for val, exp in zip(ytick_vals, ytick_exps):
    ax.annotate("10", (0, val), xycoords=ytrans, xytext=(px(-49.5), px(-21)),
                textcoords="offset points", ha="right", va="baseline", fontsize=28,
                annotation_clip=False, **TICK_FONT)
    ax.annotate(exp, (0, val), xycoords=ytrans, xytext=(px(-45), px(7.5)),
                textcoords="offset points", ha="left", va="baseline", fontsize=20,
                annotation_clip=False, **TICK_FONT)

fig.text(921 / 1690, 1 - 863 / 885, "Freq (Hz)", family="DejaVu Serif", weight="bold",
         style="italic", fontsize=29.5, color=INK, ha="center", va="center")
fig.text(44 / 1690, 1 - 401 / 885,
         r"SL/nom amplitude ratio (V$_{\mathbfit{pk}}$/V$_{\mathbfit{DC}}$)",
         family="DejaVu Serif", weight="bold", style="italic", fontsize=29.3, color=INK,
         rotation=90, ha="center", va="center")

leg = ax.legend(loc="upper left", bbox_to_anchor=((655 - 170) / 1504, (769.3 - 41) / 735.3),
                borderaxespad=0, prop={"family": "Liberation Sans", "weight": "bold", "size": 24.2},
                labelcolor=INK, frameon=True, framealpha=0.8, edgecolor="#d8d8d8",
                labelspacing=0.22, handletextpad=0.48, borderpad=0.28, handlelength=0.78,
                markerscale=1.25)
leg.set_zorder(10)

# screenshot frame around the picture
fig.add_artist(Rectangle((0, 1 - 7 / 885), 1, 7 / 885, transform=fig.transFigure,
                         color="#202020", lw=0))
fig.add_artist(Rectangle((0, 0), 2 / 1690, 1, transform=fig.transFigure, color="#202020", lw=0))

fig.savefig("out.png", dpi=100)
